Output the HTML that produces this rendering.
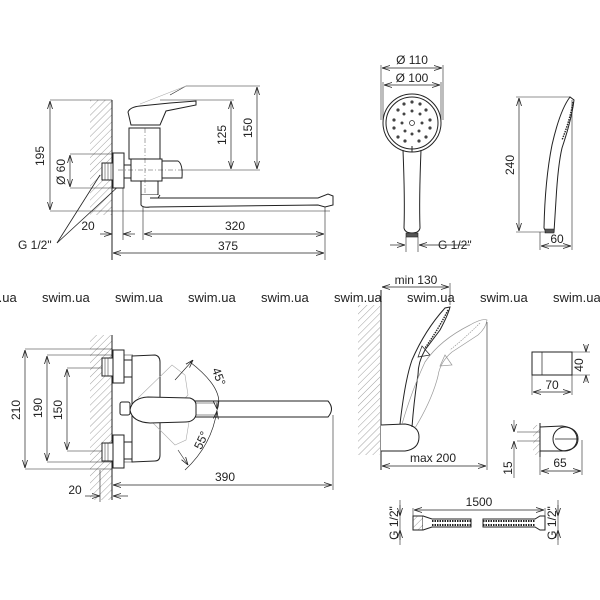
<!DOCTYPE html>
<html><head><meta charset="utf-8"><style>
html,body{margin:0;padding:0;background:#fff;}
svg{display:block;}
text{font-family:"Liberation Sans",sans-serif;fill:#222;}
</style></head><body>
<svg width="600" height="600" viewBox="0 0 600 600" xmlns="http://www.w3.org/2000/svg">
<defs>
<pattern id="h" width="5" height="5" patternUnits="userSpaceOnUse" patternTransform="rotate(45)">
<line x1="0" y1="0" x2="0" y2="5" stroke="#777" stroke-width="0.7"/>
</pattern>
<marker id="a" markerWidth="8" markerHeight="6" refX="8" refY="3" orient="auto-start-reverse" markerUnits="userSpaceOnUse">
<path d="M0,0.5 L8,3 L0,5.5" fill="none" stroke="#222" stroke-width="0.8"/>
</marker>
</defs>
<g stroke="#222" stroke-width="1" fill="none">
<!-- ===== TOP LEFT ===== -->
<rect x="90" y="100" width="22" height="115" fill="url(#h)" stroke="none"/>
<line x1="112" y1="100" x2="112" y2="260"/>
<!-- dims -->
<line x1="50" y1="100" x2="112" y2="100" stroke-width="0.6"/>
<line x1="50" y1="211" x2="330" y2="211" stroke-width="0.6"/>
<line x1="50" y1="101" x2="50" y2="210" marker-start="url(#a)" marker-end="url(#a)" stroke-width="0.7"/>
<line x1="70" y1="154" x2="113" y2="154" stroke-width="0.6"/>
<line x1="70" y1="188" x2="113" y2="188" stroke-width="0.6"/>
<line x1="70" y1="155" x2="70" y2="187" marker-start="url(#a)" marker-end="url(#a)" stroke-width="0.7"/>
<line x1="160" y1="100" x2="234" y2="100" stroke-width="0.6"/>
<line x1="182" y1="170" x2="260" y2="170" stroke-width="0.6"/>
<line x1="231" y1="101" x2="231" y2="169" marker-start="url(#a)" marker-end="url(#a)" stroke-width="0.7"/>
<polyline points="170,95 186,86 260,86" stroke-width="0.6"/>
<line x1="257" y1="87" x2="257" y2="169" marker-start="url(#a)" marker-end="url(#a)" stroke-width="0.7"/>
<line x1="123" y1="188" x2="123" y2="240" stroke-width="0.6"/>
<line x1="143" y1="200" x2="143" y2="240" stroke-width="0.6"/>
<line x1="325" y1="205" x2="325" y2="260" stroke-width="0.6"/>
<line x1="100" y1="234" x2="112" y2="234" marker-end="url(#a)" stroke-width="0.7"/>
<line x1="135" y1="234" x2="123" y2="234" marker-end="url(#a)" stroke-width="0.7"/>
<line x1="144" y1="234" x2="324" y2="234" marker-start="url(#a)" marker-end="url(#a)" stroke-width="0.7"/>
<line x1="113" y1="253" x2="324" y2="253" marker-start="url(#a)" marker-end="url(#a)" stroke-width="0.7"/>
<polyline points="57,243 100,175" stroke-width="0.8"/>
<polyline points="57,243 122,183" stroke-width="0.8"/>
<!-- faucet -->
<rect x="102" y="163" width="11" height="17" fill="#fff"/>
<line x1="105" y1="163" x2="105" y2="180" stroke-width="0.5"/><line x1="108" y1="163" x2="108" y2="180" stroke-width="0.5"/><line x1="111" y1="163" x2="111" y2="180" stroke-width="0.5"/>
<rect x="113" y="153" width="11" height="35" fill="#fff"/>
<rect x="124" y="165" width="7" height="13" fill="#fff"/>
<rect x="129" y="128" width="31" height="31" fill="#fff"/>
<path d="M131,125 L128,112 Q130,107 140,106 L170,103 L196,101 L196,105 L166,111 L160,125 Z" fill="#fff"/>
<path d="M140,104 L186,86" stroke="#aaa" stroke-width="0.6"/>
<rect x="131" y="159" width="31" height="22" fill="#fff"/>
<path d="M162,161 L178,161 Q183,164 182,178 L162,178 Z" fill="#fff"/>
<rect x="141" y="181" width="17" height="14" fill="#fff"/>
<path d="M141,195 L141,205 Q143,208 150,207 L158,198 L160,195" fill="#fff"/>
<path d="M150,198 L318,198 L328,194 L333,196 L333,205 L325,207 L318,205 L150,207" fill="#fff"/>
<line x1="145" y1="128" x2="145" y2="195" stroke-dasharray="5,2,1,2" stroke-width="0.4"/>
<line x1="118" y1="170" x2="185" y2="170" stroke-dasharray="5,2,1,2" stroke-width="0.4"/>

<!-- ===== TOP RIGHT front head ===== -->
<circle cx="412" cy="123" r="29"/>
<circle cx="412" cy="123" r="26"/>
<path d="M403,150 Q405,200 404,228 Q405,233 412,233 Q419,233 420,228 Q419,200 421,150"/>
<rect x="406" y="233" width="12" height="4" fill="#555" stroke-width="0.6"/>
<line x1="406" y1="237" x2="406" y2="252" stroke-width="0.6"/><line x1="418" y1="237" x2="418" y2="252" stroke-width="0.6"/>
<line x1="390" y1="245" x2="405" y2="245" marker-end="url(#a)" stroke-width="0.7"/>
<line x1="470" y1="245" x2="419" y2="245" marker-end="url(#a)" stroke-width="0.7"/>
<line x1="381" y1="65" x2="381" y2="120" stroke-width="0.6"/><line x1="443" y1="65" x2="443" y2="120" stroke-width="0.6"/>
<line x1="383" y1="82" x2="383" y2="120" stroke-width="0.6"/><line x1="441" y1="82" x2="441" y2="120" stroke-width="0.6"/>
<line x1="382" y1="68" x2="442" y2="68" marker-start="url(#a)" marker-end="url(#a)" stroke-width="0.7"/>
<line x1="384" y1="85" x2="440" y2="85" marker-start="url(#a)" marker-end="url(#a)" stroke-width="0.7"/>
<g fill="#444" stroke="none">
<circle cx="398" cy="110" r="1.6"/><circle cx="404" cy="104" r="1.6"/><circle cx="412" cy="102" r="1.6"/><circle cx="420" cy="104" r="1.6"/><circle cx="426" cy="110" r="1.6"/>
<circle cx="394" cy="120" r="1.6"/><circle cx="430" cy="120" r="1.6"/><circle cx="394" cy="128" r="1.6"/><circle cx="430" cy="128" r="1.6"/>
<circle cx="398" cy="137" r="1.6"/><circle cx="405" cy="141" r="1.6"/><circle cx="419" cy="141" r="1.6"/><circle cx="426" cy="137" r="1.6"/>
<circle cx="404" cy="114" r="1.5"/><circle cx="412" cy="111" r="1.5"/><circle cx="420" cy="114" r="1.5"/><circle cx="402" cy="123" r="1.5"/><circle cx="422" cy="123" r="1.5"/><circle cx="405" cy="131" r="1.5"/><circle cx="412" cy="134" r="1.5"/><circle cx="419" cy="131" r="1.5"/>
</g>
<circle cx="412" cy="123" r="2.5" stroke-width="0.7"/>
<line x1="412" y1="146" x2="412" y2="152"/>
<!-- side view -->
<path d="M570,97 Q560,110 552,145 Q545,180 544,228 L546,232 L554,232 L556,200 Q558,165 562,148 Q572,118 574,100 Z"/>
<path d="M573,102 Q570,120 562,140" stroke-dasharray="1.5,1" stroke-width="1.4"/>
<rect x="545" y="229" width="9" height="4" fill="#555" stroke-width="0.5"/>
<line x1="516" y1="97" x2="570" y2="97" stroke-width="0.6"/>
<line x1="516" y1="232" x2="546" y2="232" stroke-width="0.6"/>
<line x1="519" y1="98" x2="519" y2="231" marker-start="url(#a)" marker-end="url(#a)" stroke-width="0.7"/>
<line x1="540" y1="232" x2="540" y2="250" stroke-width="0.6"/><line x1="572" y1="100" x2="572" y2="250" stroke-width="0.6"/>
<line x1="541" y1="246" x2="571" y2="246" marker-start="url(#a)" marker-end="url(#a)" stroke-width="0.7"/>

<!-- ===== BOTTOM LEFT ===== -->
<rect x="90" y="335" width="22" height="165" fill="url(#h)" stroke="none"/>
<line x1="112" y1="335" x2="112" y2="500"/>
<line x1="25" y1="349" x2="112" y2="349" stroke-width="0.6"/>
<line x1="25" y1="469" x2="112" y2="469" stroke-width="0.6"/>
<line x1="25" y1="350" x2="25" y2="468" marker-start="url(#a)" marker-end="url(#a)" stroke-width="0.7"/>
<line x1="47" y1="355" x2="133" y2="355" stroke-width="0.6"/>
<line x1="47" y1="462" x2="133" y2="462" stroke-width="0.6"/>
<line x1="47" y1="356" x2="47" y2="461" marker-start="url(#a)" marker-end="url(#a)" stroke-width="0.7"/>
<line x1="67" y1="368" x2="103" y2="368" stroke-width="0.6"/>
<line x1="67" y1="451" x2="103" y2="451" stroke-width="0.6"/>
<line x1="67" y1="369" x2="67" y2="450" marker-start="url(#a)" marker-end="url(#a)" stroke-width="0.7"/>
<rect x="102" y="358" width="11" height="18" fill="#fff"/>
<rect x="102" y="443" width="11" height="18" fill="#fff"/>
<g stroke-width="0.5"><line x1="105" y1="358" x2="105" y2="376"/><line x1="108" y1="358" x2="108" y2="376"/><line x1="105" y1="443" x2="105" y2="461"/><line x1="108" y1="443" x2="108" y2="461"/></g>
<rect x="113" y="350" width="11" height="33" fill="#fff"/>
<rect x="113" y="435" width="11" height="33" fill="#fff"/>
<rect x="124" y="360" width="8" height="17" fill="#fff"/>
<rect x="124" y="442" width="8" height="17" fill="#fff"/>
<path d="M132,356 L155,355 Q160,356 160,362 L160,455 Q160,461 155,461 L132,462 Z" fill="#fff"/>
<g stroke="#aaa" stroke-width="0.6">
<path d="M138,398 L172,365 L185,375 L188,395 L165,420 L145,420"/>
<path d="M140,410 L175,445 L186,440 L189,422 L165,400"/>
</g>
<path d="M195,401 L328,401 Q335,409 328,417 L195,417" fill="#fff"/>
<line x1="195" y1="403" x2="215" y2="403" stroke-width="0.5"/><line x1="195" y1="415" x2="215" y2="415" stroke-width="0.5"/>
<rect x="120" y="402" width="10" height="13" rx="2" fill="#fff"/>
<path d="M130,410 Q132,398 148,397 L190,398 Q196,400 196,405 L196,415 Q194,422 185,422 L150,423 Q132,422 130,410 Z" fill="#fff"/>
<path d="M190,362 Q226,390 217,410 Q212,445 185,470" stroke-width="0.7"/>
<line x1="175" y1="380" x2="193" y2="360" stroke-width="0.6" marker-end="url(#a)"/>
<line x1="178" y1="450" x2="188" y2="465" stroke-width="0.6" marker-end="url(#a)"/>
<line x1="216" y1="402" x2="217" y2="409" marker-end="url(#a)" stroke-width="0.6"/>
<line x1="216" y1="418" x2="217" y2="411" marker-end="url(#a)" stroke-width="0.6"/>
<line x1="333" y1="415" x2="333" y2="490" stroke-width="0.6"/>
<line x1="113" y1="485" x2="332" y2="485" marker-start="url(#a)" marker-end="url(#a)" stroke-width="0.7"/>
<line x1="100" y1="470" x2="100" y2="502" stroke-width="0.6"/>
<line x1="85" y1="496" x2="100" y2="496" marker-end="url(#a)" stroke-width="0.7"/>
<line x1="128" y1="496" x2="113" y2="496" marker-end="url(#a)" stroke-width="0.7"/>

<!-- ===== BOTTOM RIGHT ===== -->
<rect x="358" y="305" width="22" height="150" fill="url(#h)" stroke="none"/>
<line x1="381" y1="290" x2="381" y2="470"/>
<line x1="382" y1="287" x2="449" y2="287" marker-start="url(#a)" marker-end="url(#a)" stroke-width="0.7"/>
<line x1="450" y1="283" x2="450" y2="305" stroke-width="0.6"/>
<path d="M381,425 L405,424 Q419,426 419,437 Q419,449 405,451 L381,451" fill="#fff"/>
<path d="M400,424 Q405,380 412,360 Q425,330 445,308 L450,307 Q448,315 440,330 L425,350 Q418,362 418,375 Q414,400 412,427" fill="none"/>
<path d="M448,310 Q438,330 425,348" stroke-dasharray="1.5,1" stroke-width="1.4"/>
<path d="M422,346 L430,355 L418,357 Z" stroke-width="0.7"/>
<g stroke="#999" stroke-width="0.7">
<path d="M402,424 Q412,390 425,362 Q440,340 470,325 Q482,318 487,320 Q486,328 478,335 L452,352 Q440,362 438,376 Q432,400 415,428"/>
<path d="M480,323 Q465,338 450,350" stroke-dasharray="1.5,1"/>
<path d="M445,355 L452,365 L440,366 Z"/>
</g>
<line x1="487" y1="322" x2="487" y2="470" stroke-width="0.6"/>
<line x1="382" y1="466" x2="486" y2="466" marker-start="url(#a)" marker-end="url(#a)" stroke-width="0.7"/>
<!-- small holder -->
<path d="M532,352 L572,352 L572,375 L532,375 Z" fill="#fff"/>
<line x1="542" y1="352" x2="542" y2="375" stroke-width="0.7"/>
<line x1="532" y1="375" x2="532" y2="395" stroke-width="0.6"/><line x1="572" y1="375" x2="572" y2="395" stroke-width="0.6"/>
<line x1="533" y1="392" x2="571" y2="392" marker-start="url(#a)" marker-end="url(#a)" stroke-width="0.7"/>
<line x1="572" y1="352" x2="590" y2="352" stroke-width="0.6"/><line x1="572" y1="375" x2="590" y2="375" stroke-width="0.6"/>
<line x1="586" y1="345" x2="586" y2="352" marker-end="url(#a)" stroke-width="0.6"/>
<line x1="586" y1="382" x2="586" y2="375" marker-end="url(#a)" stroke-width="0.6"/>
<!-- wall holder -->
<rect x="533" y="425" width="7" height="30" fill="url(#h)" stroke="none"/>
<line x1="540" y1="423" x2="540" y2="457"/>
<path d="M540,427 L562,426 Q578,428 578,439 Q578,450 562,451 L540,451 Z" fill="#fff"/>
<circle cx="565" cy="439" r="12"/>
<line x1="555" y1="439" x2="577" y2="439" stroke-width="0.8"/>
<line x1="517" y1="432" x2="540" y2="432" stroke-width="0.6"/><line x1="517" y1="441" x2="540" y2="441" stroke-width="0.6"/>
<line x1="514" y1="420" x2="514" y2="432" marker-end="url(#a)" stroke-width="0.6"/>
<line x1="514" y1="478" x2="514" y2="441" marker-end="url(#a)" stroke-width="0.6"/>
<line x1="540" y1="455" x2="540" y2="475" stroke-width="0.6"/><line x1="582" y1="440" x2="582" y2="475" stroke-width="0.6"/>
<line x1="541" y1="471" x2="581" y2="471" marker-start="url(#a)" marker-end="url(#a)" stroke-width="0.7"/>
<!-- hose -->
<line x1="400" y1="500" x2="400" y2="545" stroke-width="0.6"/>
<line x1="413" y1="508" x2="413" y2="530" stroke-width="0.6"/>
<line x1="545" y1="508" x2="545" y2="530" stroke-width="0.6"/>
<line x1="558" y1="500" x2="558" y2="545" stroke-width="0.6"/>
<line x1="414" y1="510" x2="544" y2="510" marker-start="url(#a)" marker-end="url(#a)" stroke-width="0.7"/>
<rect x="413" y="516" width="10" height="14" fill="url(#h)"/>
<path d="M423,516 L432,519 L471,519 L471,527 L432,527 L423,530" fill="#fff"/>
<line x1="432" y1="521" x2="471" y2="521" stroke-dasharray="1.5,1" stroke-width="2"/>
<line x1="432" y1="525" x2="471" y2="525" stroke-dasharray="1.5,1" stroke-width="2"/>
<path d="M483,519 L535,519 L540,516 L545,516 L545,530 L540,530 L535,527 L483,527 Z" fill="#fff"/>
<line x1="483" y1="521" x2="535" y2="521" stroke-dasharray="1.5,1" stroke-width="2"/>
<line x1="483" y1="525" x2="535" y2="525" stroke-dasharray="1.5,1" stroke-width="2"/>
<line x1="400" y1="505" x2="400" y2="516" marker-end="url(#a)" stroke-width="0.6"/>
<line x1="400" y1="540" x2="400" y2="530" marker-end="url(#a)" stroke-width="0.6"/>
<line x1="558" y1="505" x2="558" y2="516" marker-end="url(#a)" stroke-width="0.6"/>
<line x1="558" y1="540" x2="558" y2="530" marker-end="url(#a)" stroke-width="0.6"/>
</g>

<!-- TEXT -->
<g font-size="12">
<text x="44" y="156" transform="rotate(-90 44 156)" text-anchor="middle">195</text>
<text x="65" y="172" transform="rotate(-90 65 172)" text-anchor="middle">Ø 60</text>
<text x="226" y="135" transform="rotate(-90 226 135)" text-anchor="middle">125</text>
<text x="252" y="128" transform="rotate(-90 252 128)" text-anchor="middle">150</text>
<text x="88" y="230" text-anchor="middle">20</text>
<text x="235" y="230" text-anchor="middle">320</text>
<text x="228" y="250" text-anchor="middle">375</text>
<text x="18" y="249">G 1/2"</text>
<text x="412" y="64" text-anchor="middle">Ø 110</text>
<text x="412" y="82" text-anchor="middle">Ø 100</text>
<text x="438" y="249">G 1/2"</text>
<text x="514" y="165" transform="rotate(-90 514 165)" text-anchor="middle">240</text>
<text x="557" y="243" text-anchor="middle">60</text>
<text x="20" y="410" transform="rotate(-90 20 410)" text-anchor="middle">210</text>
<text x="42" y="408" transform="rotate(-90 42 408)" text-anchor="middle">190</text>
<text x="62" y="410" transform="rotate(-90 62 410)" text-anchor="middle">150</text>
<text x="215" y="378" transform="rotate(70 215 378)" text-anchor="middle">45°</text>
<text x="205" y="442" transform="rotate(-65 205 442)" text-anchor="middle">55°</text>
<text x="225" y="481" text-anchor="middle">390</text>
<text x="75" y="494" text-anchor="middle">20</text>
<text x="416" y="284" text-anchor="middle">min 130</text>
<text x="433" y="462" text-anchor="middle">max 200</text>
<text x="552" y="389" text-anchor="middle">70</text>
<text x="583" y="365" transform="rotate(-90 583 365)" text-anchor="middle">40</text>
<text x="560" y="467" text-anchor="middle">65</text>
<text x="512" y="468" transform="rotate(-90 512 468)" text-anchor="middle">15</text>
<text x="479" y="506" text-anchor="middle">1500</text>
<text x="398" y="523" transform="rotate(-90 398 523)" text-anchor="middle">G 1/2"</text>
<text x="556" y="523" transform="rotate(-90 556 523)" text-anchor="middle">G 1/2"</text>
</g>
<g font-size="13" style="fill:#888">
<text x="-31" y="302" fill="#888">swim.ua</text>
<text x="42" y="302" fill="#888">swim.ua</text>
<text x="115" y="302" fill="#888">swim.ua</text>
<text x="188" y="302" fill="#888">swim.ua</text>
<text x="261" y="302" fill="#888">swim.ua</text>
<text x="334" y="302" fill="#888">swim.ua</text>
<text x="407" y="302" fill="#888">swim.ua</text>
<text x="480" y="302" fill="#888">swim.ua</text>
<text x="553" y="302" fill="#888">swim.ua</text>
</g>
</svg>
</body></html>
